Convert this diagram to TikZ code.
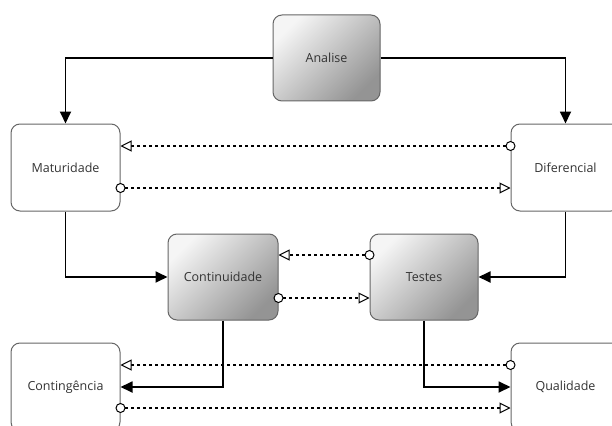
\documentclass[tikz,border=0pt]{standalone}
\usepackage{fontspec}
\setmainfont{Open Sans}
\usetikzlibrary{arrows.meta,calc}
\begin{document}
\begin{tikzpicture}[x=1pt,y=-1pt,
  box/.style={draw=black!60,line width=1pt,rounded corners=9pt,fill=white,
    minimum width=109pt,minimum height=87pt,inner sep=0pt,font=\fontsize{12.5}{14}\selectfont,text=black!80},
  gbox/.style={box,shading=axis,top color=white!96!black,bottom color=black!42,shading angle=45},
  flow/.style={line width=1.8pt,-{Triangle[length=12pt,width=11pt]}},
  dep/.style={line width=1.8pt,dash pattern=on 3pt off 3pt,
    {Circle[length=10pt,fill=white,line width=1pt]}-{Triangle[open,length=11pt,width=11pt,fill=white,line width=1pt]},
    shorten <=-5pt}
]
\useasboundingbox (0,0) rectangle (612,425);
\node[gbox,minimum width=107pt,minimum height=86pt] (ana) at (326.5,58) {Analise};
\node[box] (mat) at (65.5,167.5) {Maturidade};
\node[box] (dif) at (565.5,167.5) {Diferencial};
\node[gbox,minimum width=110pt,minimum height=86pt] (cont) at (223,277) {Continuidade};
\node[gbox,minimum width=108pt,minimum height=86pt] (tes) at (424,277) {Testes};
\node[box,minimum height=88pt] (ctg) at (65.5,387) {Contingência};
\node[box,minimum height=88pt] (qual) at (565.5,387) {Qualidade};

\draw[flow] (ana.west) -| (mat.north);
\draw[flow] (ana.east) -| (dif.north);
\draw[flow] (mat.south) |- (cont.west);
\draw[flow] (dif.south) |- (tes.east);
\draw[flow] (cont.south) |- (ctg.east);
\draw[flow] (tes.south) |- (qual.west);

\draw[dep] ([yshift=21.5pt]dif.west) -- ([yshift=21.5pt]mat.east);
\draw[dep] ([yshift=-20.5pt]mat.east) -- ([yshift=-20.5pt]dif.west);
\draw[dep] ([yshift=22pt]tes.west) -- ([yshift=22pt]cont.east);
\draw[dep] ([yshift=-21pt]cont.east) -- ([yshift=-21pt]tes.west);
\draw[dep] ([yshift=22pt]qual.west) -- ([yshift=22pt]ctg.east);
\draw[dep] ([yshift=-21pt]ctg.east) -- ([yshift=-21pt]qual.west);
\end{tikzpicture}
\end{document}
